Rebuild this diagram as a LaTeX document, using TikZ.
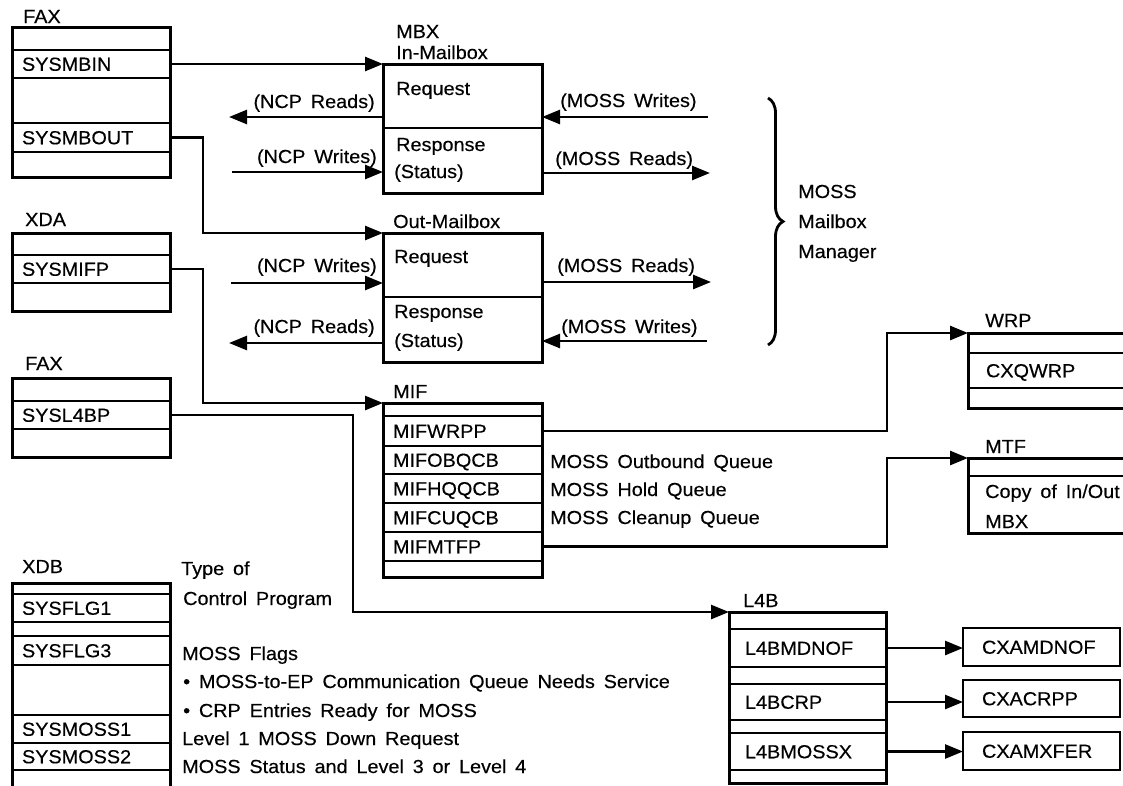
\documentclass[tikz,border=0pt]{standalone}
\usepackage{fontspec}
\setmainfont{Liberation Sans}[WordSpace=1.6,FakeStretch=1.05,FakeBold=0.35]
\usetikzlibrary{arrows.meta,decorations.pathreplacing}
\begin{document}
\begin{tikzpicture}[x=1pt,y=-1pt,
  font=\fontsize{18.9}{22}\selectfont,
  cell/.style={draw, line width=1.4pt, anchor=north west, outer sep=0pt, inner ysep=0pt, align=left, text height=13.5pt, text depth=0pt},
  ecell/.style={text height=0pt},
  lcell/.style={cell, text width=138pt, inner xsep=10pt},
  mcell/.style={cell, text width=139pt, inner xsep=10pt},
  rcell/.style={cell, text width=164pt, inner xsep=18pt},
  l4cell/.style={cell, text width=125pt, inner xsep=16pt},
  cxbox/.style={cell, line width=2.8pt, text width=119pt, inner xsep=19pt},
  outer/.style={line width=3pt},
  conn/.style={line width=2.6pt},
  arr/.style={conn, -{Triangle[length=18pt,width=14pt]}},
  lab/.style={anchor=base west, inner sep=0pt},
  labr/.style={anchor=base east, inner sep=0pt}
]
\useasboundingbox (0,0) rectangle (1123,785);
\clip (0,0) rectangle (1123,785);

% ---------- FAX (top) ----------
\node[lab] (faxa) at (23,23) {FAX};
\node[lcell, ecell, minimum height=23] (fa1) at (12,27) {};
\node[lcell, minimum height=28] (fa2) at (12,50) {SYSMBIN};
\node[lcell, ecell, minimum height=45] (fa3) at (12,78) {};
\node[lcell, minimum height=29] (fa4) at (12,123) {SYSMBOUT};
\node[lcell, ecell, minimum height=25] (fa5) at (12,152) {};
\draw[outer] (fa1.north west) rectangle (fa5.south east);

% ---------- XDA ----------
\node[lab] (xdal) at (25,226) {XDA};
\node[lcell, ecell, minimum height=22] (xa1) at (12,233) {};
\node[lcell, minimum height=28] (xa2) at (12,255) {SYSMIFP};
\node[lcell, ecell, minimum height=28] (xa3) at (12,283) {};
\draw[outer] (xa1.north west) rectangle (xa3.south east);

% ---------- FAX (second) ----------
\node[lab] (faxb) at (25,370) {FAX};
\node[lcell, ecell, minimum height=23] (fb1) at (12,378) {};
\node[lcell, minimum height=28] (fb2) at (12,401) {SYSL4BP};
\node[lcell, ecell, minimum height=28] (fb3) at (12,429) {};
\draw[outer] (fb1.north west) rectangle (fb3.south east);

% ---------- XDB ----------
\node[lab] (xdbl) at (22,573) {XDB};
\node[lcell, ecell, minimum height=11] (xb1) at (12,583) {};
\node[lcell, minimum height=28] (xb2) at (12,594) {SYSFLG1};
\node[lcell, ecell, minimum height=14] (xb3) at (12,622) {};
\node[lcell, minimum height=29] (xb4) at (12,636) {SYSFLG3};
\node[lcell, ecell, minimum height=50] (xb5) at (12,665) {};
\node[lcell, minimum height=28] (xb6) at (12,715) {SYSMOSS1};
\node[lcell, minimum height=27] (xb7) at (12,743) {SYSMOSS2};
\node[lcell, ecell, minimum height=30] (xb8) at (12,770) {};
\draw[outer] (xb1.north west) rectangle (xb8.south east);

\node[lab] (t1) at (181,575) {Type of};
\node[lab] (t2) at (183,605) {Control Program};
\node[lab] (t3) at (182,660) {MOSS Flags};
\node[lab] (t4) at (183,688) {\textbullet\ MOSS-to-EP Communication Queue Needs Service};
\node[lab] (t5) at (183,717) {\textbullet\ CRP Entries Ready for MOSS};
\node[lab] (t6) at (182,745) {Level 1 MOSS Down Request};
\node[lab] (t7) at (182,773) {MOSS Status and Level 3 or Level 4};

% ---------- In-Mailbox ----------
\node[lab] (mbxl) at (396,38) {MBX};
\node[lab] (inml) at (396,59) {In-Mailbox};
\node[cell, ecell, minimum width=159, minimum height=64] (inreq) at (383,64) {};
\node[cell, ecell, minimum width=159, minimum height=65] (inrsp) at (383,128) {};
\draw[outer] (inreq.north west) rectangle (inrsp.south east);
\node[lab] (inreqt) at (396,95) {Request};
\node[lab] (inrspt) at (396,151) {Response};
\node[lab] (inst) at (394,178) {(Status)};

% ---------- Out-Mailbox ----------
\node[lab] (outml) at (393,228) {Out-Mailbox};
\node[cell, ecell, minimum width=159, minimum height=64] (outreq) at (383,233) {};
\node[cell, ecell, minimum width=159, minimum height=65] (outrsp) at (383,297) {};
\draw[outer] (outreq.north west) rectangle (outrsp.south east);
\node[lab] (outreqt) at (394,263) {Request};
\node[lab] (outrspt) at (394,318) {Response};
\node[lab] (outst) at (394,347) {(Status)};

% ---------- MIF ----------
\node[lab] (mifl) at (393,398) {MIF};
\node[mcell, ecell, minimum height=13] (m1) at (383,403) {};
\node[mcell, minimum height=30] (m2) at (383,416) {MIFWRPP};
\node[mcell, minimum height=28] (m3) at (383,446) {MIFOBQCB};
\node[mcell, minimum height=29] (m4) at (383,474) {MIFHQQCB};
\node[mcell, minimum height=29] (m5) at (383,503) {MIFCUQCB};
\node[mcell, minimum height=29] (m6) at (383,532) {MIFMTFP};
\node[mcell, ecell, minimum height=16] (m7) at (383,561) {};
\draw[outer] (m1.north west) rectangle (m7.south east);
\node[lab] (q1) at (550,468) {MOSS Outbound Queue};
\node[lab] (q2) at (550,496) {MOSS Hold Queue};
\node[lab] (q3) at (550,524) {MOSS Cleanup Queue};

% ---------- WRP ----------
\node[lab] (wrpl) at (985,327) {WRP};
\node[rcell, ecell, minimum height=20] (w1) at (968,333) {};
\node[rcell, minimum height=35] (w2) at (968,353) {CXQWRP};
\node[rcell, ecell, minimum height=20] (w3) at (968,388) {};
\draw[outer] (w1.north west) rectangle (w3.south east);

% ---------- MTF ----------
\node[lab] (mtfl) at (985,453) {MTF};
\node[rcell, ecell, minimum height=18] (mt1) at (968,458) {};
\node[rcell, ecell, minimum height=57] (mt2) at (968,476) {};
\draw[outer] (mt1.north west) rectangle (mt2.south east);
\node[lab] (mtt1) at (985,498) {Copy of In/Out};
\node[lab] (mtt2) at (985,528) {MBX};

% ---------- L4B ----------
\node[lab] (l4bl) at (743,607) {L4B};
\node[l4cell, ecell, minimum height=17] (l1) at (729,612) {};
\node[l4cell, minimum height=38] (l2) at (729,629) {L4BMDNOF};
\node[l4cell, ecell, minimum height=17] (l3) at (729,667) {};
\node[l4cell, minimum height=36] (l4) at (729,684) {L4BCRP};
\node[l4cell, ecell, minimum height=13] (l5) at (729,720) {};
\node[l4cell, minimum height=37] (l6) at (729,733) {L4BMOSSX};
\node[l4cell, ecell, minimum height=13] (l7) at (729,770) {};
\draw[outer] (l1.north west) rectangle (l7.south east);

\node[cxbox, minimum height=38] (cx1) at (963,628) {CXAMDNOF};
\node[cxbox, minimum height=37] (cx2) at (963,680) {CXACRPP};
\node[cxbox, minimum height=38] (cx3) at (963,732) {CXAMXFER};

% ---------- Brace ----------
\coordinate (brt) at (768,98);
\coordinate (brb) at (768,345);
\draw[line width=2.8pt, decorate, decoration={brace, amplitude=15pt}] (brt) -- (brb);
\node[lab] (mm1) at (798,198) {MOSS};
\node[lab] (mm2) at (798,228) {Mailbox};
\node[lab] (mm3) at (798,258) {Manager};

% ---------- connectors ----------
\coordinate (j1) at (203,0);
\coordinate (j2) at (203,0);
\coordinate (j3) at (353,0);
\coordinate (j4) at (887,0);
\draw[arr] (fa2.east) -- (fa2.east -| inreq.north west);
\draw[arr] (fa4.east) -- (fa4.east -| j1) |- (outreq.north west);
\draw[arr] (xa2.east) -- (xa2.east -| j2) |- (m1.north west);
\draw[arr] (fb2.east) -- (fb2.east -| j3) |- (l1.north west);
\draw[arr] (m2.east) -- (m2.east -| j4) |- (w1.north west);
\draw[arr] (m6.east) -- (m6.east -| j4) |- (mt1.north west);
\draw[arr] (l2.east) -- (l2.east -| cx1.west);
\draw[arr] (l4.east) -- (l4.east -| cx2.west);
\draw[arr] (l6.east) -- (l6.east -| cx3.west);

% mailbox access arrows
\coordinate (a1) at (229,117);
\coordinate (a2) at (232,172);
\coordinate (a3) at (708,117);
\coordinate (a4) at (710,173);
\coordinate (a5) at (231,283);
\coordinate (a6) at (229,343);
\coordinate (a7) at (711,282);
\coordinate (a8) at (707,341);
\draw[arr] (a1 -| inreq.west) -- (a1);
\draw[arr] (a2) -- (a2 -| inrsp.west);
\draw[arr] (a3) -- (a3 -| inreq.east);
\draw[arr] (a4 -| inrsp.east) -- (a4);
\draw[arr] (a5) -- (a5 -| outreq.west);
\draw[arr] (a6 -| outrsp.west) -- (a6);
\draw[arr] (a7 -| outreq.east) -- (a7);
\draw[arr] (a8) -- (a8 -| outrsp.east);

\node[labr] (n1) at (375,108) {(NCP Reads)};
\node[labr] (n2) at (377,163) {(NCP Writes)};
\node[lab] (n3) at (560,107) {(MOSS Writes)};
\node[lab] (n4) at (555,165) {(MOSS Reads)};
\node[labr] (n5) at (377,272) {(NCP Writes)};
\node[labr] (n6) at (375,333) {(NCP Reads)};
\node[lab] (n7) at (557,272) {(MOSS Reads)};
\node[lab] (n8) at (561,333) {(MOSS Writes)};
\end{tikzpicture}
\end{document}
